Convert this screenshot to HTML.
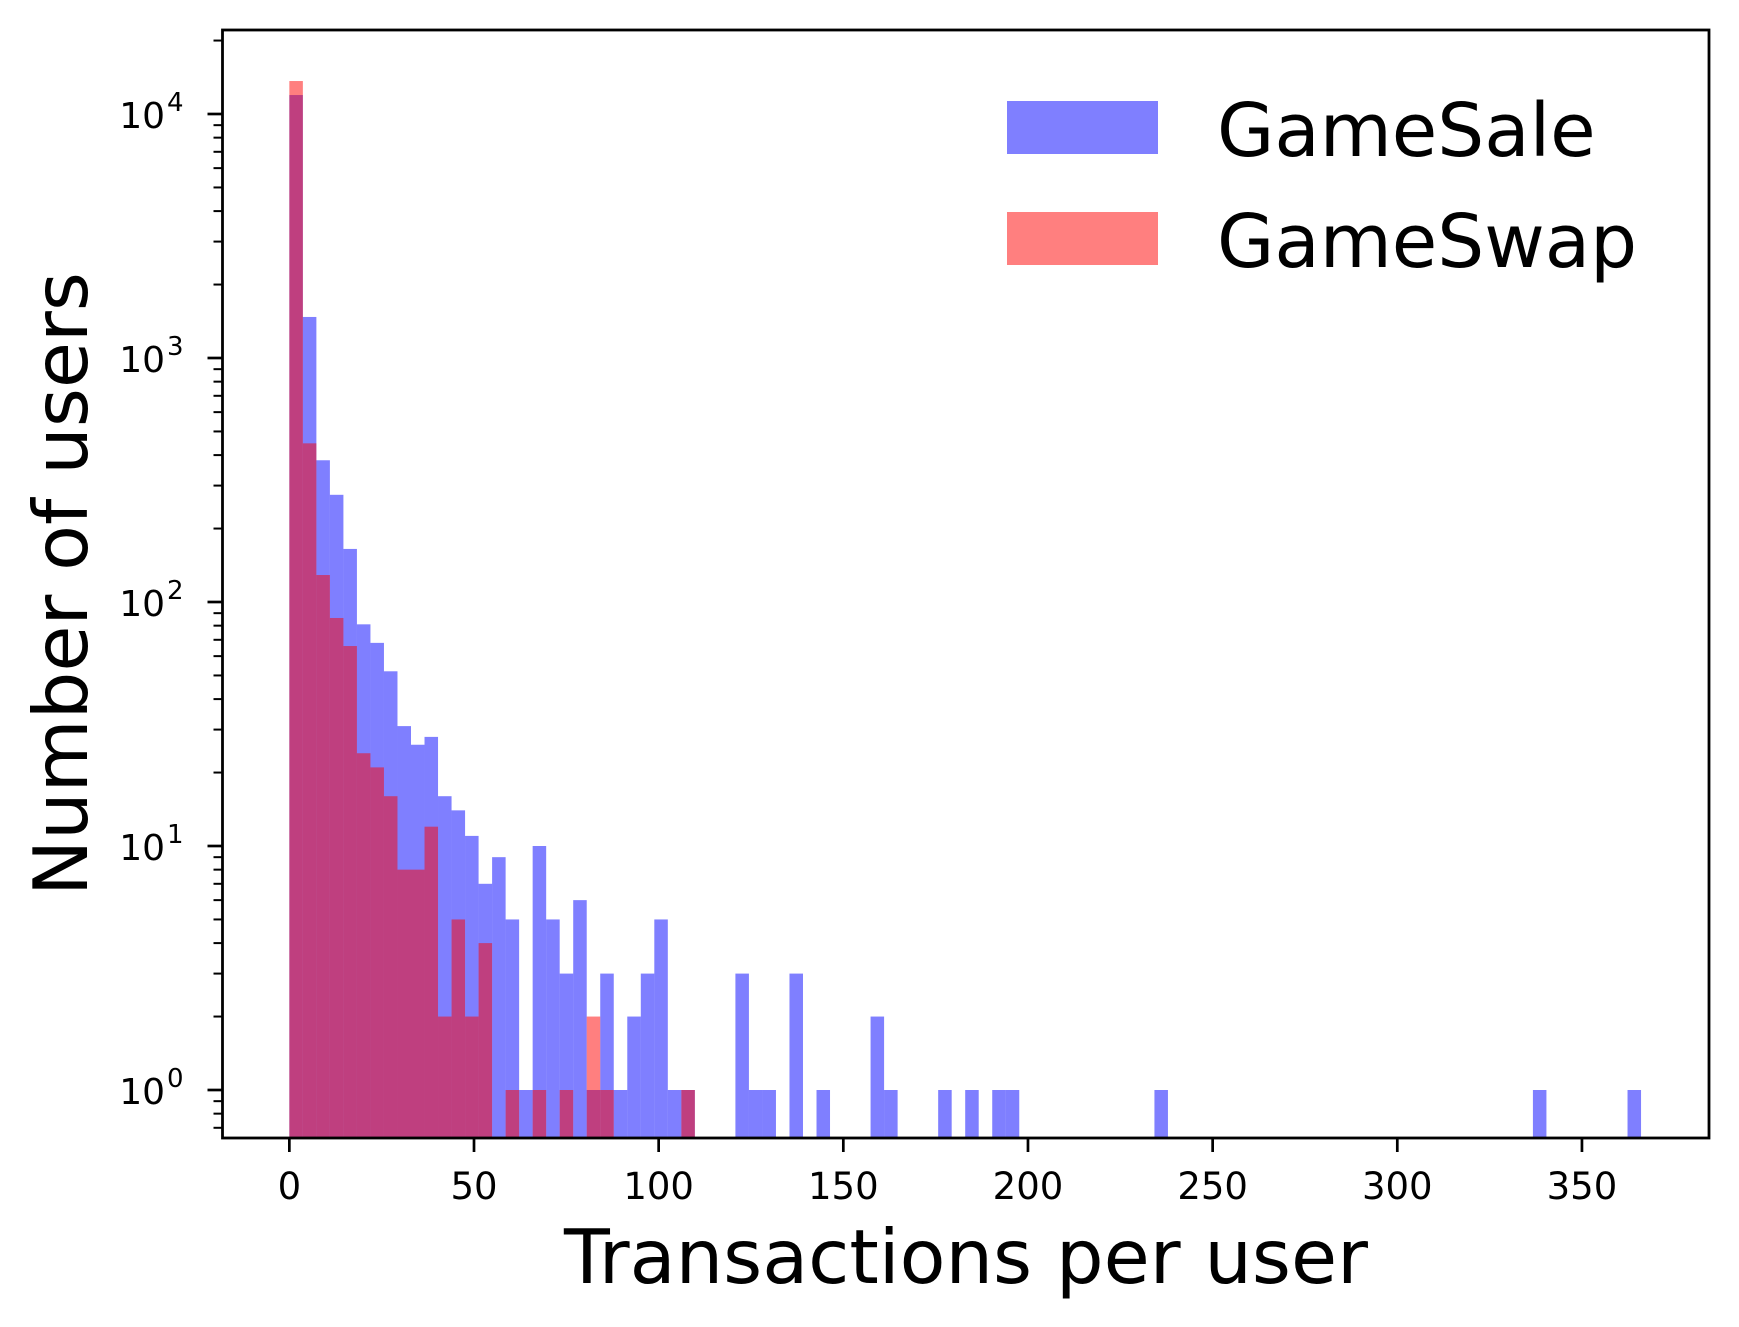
<!DOCTYPE html>
<html><head><meta charset="utf-8"><style>
html,body{margin:0;padding:0;background:#fff}
svg{display:block}
text{font-family:"DejaVu Sans","Liberation Sans",sans-serif;fill:#000}
</style></head><body>
<svg id="chart" width="1739" height="1327" viewBox="0 0 1739 1327" xmlns="http://www.w3.org/2000/svg">
<rect x="0" y="0" width="1739" height="1327" fill="#fff"/>
<g id="bars"></g>
<g id="axes"></g>
<g id="legend">
<rect x="1007" y="101" width="151" height="53" fill="#0000ff" fill-opacity="0.5"/>
<text x="1217" y="156" font-size="74">GameSale</text>
<rect x="1007" y="212" width="151" height="53" fill="#ff0000" fill-opacity="0.5"/>
<text x="1217" y="267" font-size="74">GameSwap</text>
</g>
<text x="966" y="1283" font-size="75" text-anchor="middle">Transactions per user</text>
<text x="0" y="0" font-size="75" text-anchor="middle" transform="translate(87,584) rotate(-90)">Number of users</text>
</svg>
<script>
const binWidth = 3.66;
const gameSale = [11960,1473,381,275,165,81,68,52,31,26,28,16,14,11,7,9,5,1,10,5,3,6,1,3,1,2,3,5,1,1,0,0,0,3,1,1,0,3,0,1,0,0,0,2,1,0,0,0,1,0,1,0,1,1,0,0,0,0,0,0,0,0,0,0,1,0,0,0,0,0,0,0,0,0,0,0,0,0,0,0,0,0,0,0,0,0,0,0,0,0,0,0,1,0,0,0,0,0,0,1];
const gameSwap = [13650,447,129,86,66,24,21,16,8,8,12,2,5,2,4,0,1,0,1,0,1,0,2,1,0,0,0,0,0,1];
const xTicks = [0,50,100,150,200,250,300,350];
const yTickExps = [0,1,2,3,4];

const NS = 'http://www.w3.org/2000/svg';
const L = 222.5, R = 1709, T = 30, B = 1138;
const xMin = -18.1, xMax = 384.4;
const y1px = 1090, decade = 244;
function X(v){ return L + (v - xMin) / (xMax - xMin) * (R - L); }
function Y(v){ return y1px - Math.log10(v) * decade; }
function mk(tag, attrs, parent){
  const e = document.createElementNS(NS, tag);
  for (const k in attrs) e.setAttribute(k, attrs[k]);
  parent.appendChild(e);
  return e;
}
const bars = document.getElementById('bars');
function drawSeries(arr, color, name){
  arr.forEach((c, i) => {
    if (c <= 0) return;
    const x0 = X(i * binWidth), x1 = X((i + 1) * binWidth);
    const yt = Y(c);
    const r = mk('rect', {x: x0, y: yt, width: x1 - x0, height: B - yt, fill: color, 'fill-opacity': 0.5}, bars);
    
    
  });
}
drawSeries(gameSale, '#0000ff', 'gamesale');
drawSeries(gameSwap, '#ff0000', 'gameswap');

const axes = document.getElementById('axes');
xTicks.forEach(v => {
  const x = X(v);
  const t = mk('line', {x1: x, x2: x, y1: B, y2: B + 14, stroke: '#000', 'stroke-width': 2.7}, axes);
  
  
  const lb = mk('text', {x: x, y: 1199, 'font-size': 37, 'text-anchor': 'middle'}, axes);
  lb.textContent = String(v);
  
  
});
const yLo = Math.pow(10, (y1px - B) / decade), yHi = Math.pow(10, (y1px - T) / decade);
for (let e = -1; e <= 4; e++) {
  for (let m = 1; m <= 9; m++) {
    const v = m * Math.pow(10, e);
    if (v < yLo || v > yHi) continue;
    const y = Y(v);
    const major = m === 1;
    const t = mk('line', {x1: L - (major ? 15 : 9), x2: L, y1: y, y2: y, stroke: '#000', 'stroke-width': major ? 2.7 : 2}, axes);
    
    
  }
}
yTickExps.forEach(ex => {
  const y = Y(Math.pow(10, ex));
  const lb = mk('text', {x: 165, y: y + 14, 'font-size': 36, 'text-anchor': 'end'}, axes);
  lb.textContent = '10';
  
  
  const sp = mk('text', {x: 167, y: y - 3, 'font-size': 26}, axes);
  sp.textContent = String(ex);
  
  
});
const frame = mk('rect', {x: L, y: T, width: R - L, height: B - T, fill: 'none', stroke: '#000', 'stroke-width': 2.8}, axes);


</script>
</body></html>
